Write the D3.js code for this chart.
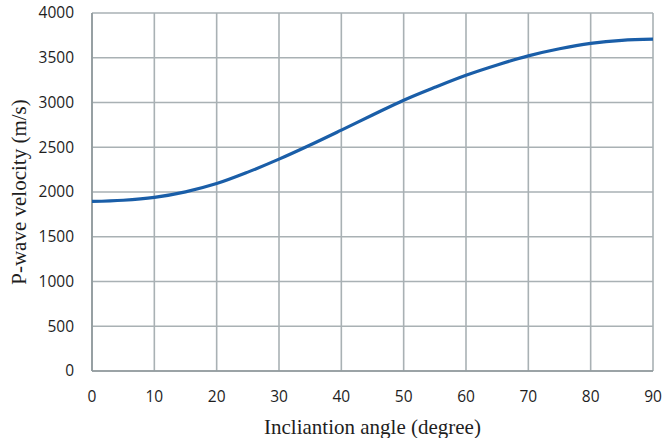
<!DOCTYPE html>
<html>
<head>
<meta charset="utf-8">
<script src="https://cdn.jsdelivr.net/npm/d3@7"></script>
<style>
  body { margin: 0; background: #fff; }
  svg { display: block; }
</style>
</head>
<body>
<script>
// inclination angle (degree) vs P-wave velocity (m/s)
const angles = [0, 5, 10, 15, 20, 25, 30, 35, 40, 45, 50, 55, 60, 65, 70, 75, 80, 85, 90];
const velocity = [1895, 1908, 1940, 2002, 2094, 2222, 2367, 2525, 2691, 2860, 3026, 3170, 3305, 3420, 3521, 3600, 3660, 3695, 3707];
const xTicks = [0, 10, 20, 30, 40, 50, 60, 70, 80, 90];
const yTicks = [0, 500, 1000, 1500, 2000, 2500, 3000, 3500, 4000];

const width = 664, height = 438;
const margin = { left: 92, right: 11, top: 13, bottom: 67 };

const svg = d3.select("body").append("svg")
  .attr("width", width)
  .attr("height", height);

const x = d3.scaleLinear().domain([0, 90]).range([margin.left, width - margin.right]);
const y = d3.scaleLinear().domain([0, 4000]).range([height - margin.bottom, margin.top]);

const gridColor = "#a9b1b4";

// grid
svg.append("g")
  .selectAll("line")
  .data(xTicks)
  .join("line")
  .attr("x1", d => x(d)).attr("x2", d => x(d))
  .attr("y1", y(0)).attr("y2", y(4000))
  .style("stroke", gridColor)
  .style("stroke-width", 1.6);

svg.append("g")
  .selectAll("line")
  .data(yTicks)
  .join("line")
  .attr("x1", x(0)).attr("x2", x(90))
  .attr("y1", d => y(d)).attr("y2", d => y(d))
  .style("stroke", gridColor)
  .style("stroke-width", 1.6);

// axes lines (slightly darker)
svg.append("line")
  .attr("x1", x(0)).attr("x2", x(0)).attr("y1", y(0)).attr("y2", y(4000))
  .style("stroke", "#8f989b").style("stroke-width", 1.6);
svg.append("line")
  .attr("x1", x(0)).attr("x2", x(90)).attr("y1", y(0)).attr("y2", y(0))
  .style("stroke", "#8f989b").style("stroke-width", 1.6);

// tick labels
const tickFont = "'Open Sans', sans-serif";
svg.append("g")
  .selectAll("text")
  .data(yTicks)
  .join("text")
  .attr("x", 74)
  .attr("y", d => y(d))
  .attr("dy", "0.35em")
  .attr("text-anchor", "end")
  .style("font-family", tickFont)
  .style("font-size", "15.5px")
  .style("fill", "#1e1e1e")
  .text(d => d);

svg.append("g")
  .selectAll("text")
  .data(xTicks)
  .join("text")
  .attr("x", d => x(d))
  .attr("y", 402)
  .attr("text-anchor", "middle")
  .style("font-family", tickFont)
  .style("font-size", "15.5px")
  .style("fill", "#1e1e1e")
  .text(d => d);

// axis titles
svg.append("text")
  .attr("x", (x(0) + x(90)) / 2)
  .attr("y", 434)
  .attr("text-anchor", "middle")
  .style("font-family", "'Liberation Serif', serif")
  .style("font-size", "21px")
  .style("fill", "#1e1e1e")
  .text("Incliantion angle (degree)");

svg.append("text")
  .attr("transform", `translate(26,${(y(0) + y(4000)) / 2}) rotate(-90)`)
  .attr("text-anchor", "middle")
  .style("font-family", "'Liberation Serif', serif")
  .style("font-size", "21px")
  .style("fill", "#1e1e1e")
  .text("P-wave velocity (m/s)");

// curve
const line = d3.line()
  .x((d, i) => x(angles[i]))
  .y(d => y(d))
  .curve(d3.curveCatmullRom);

svg.append("path")
  .datum(velocity)
  .attr("d", line)
  .style("fill", "none")
  .style("stroke", "#1a5ea8")
  .style("stroke-width", 3.2);
</script>
</body>
</html>
